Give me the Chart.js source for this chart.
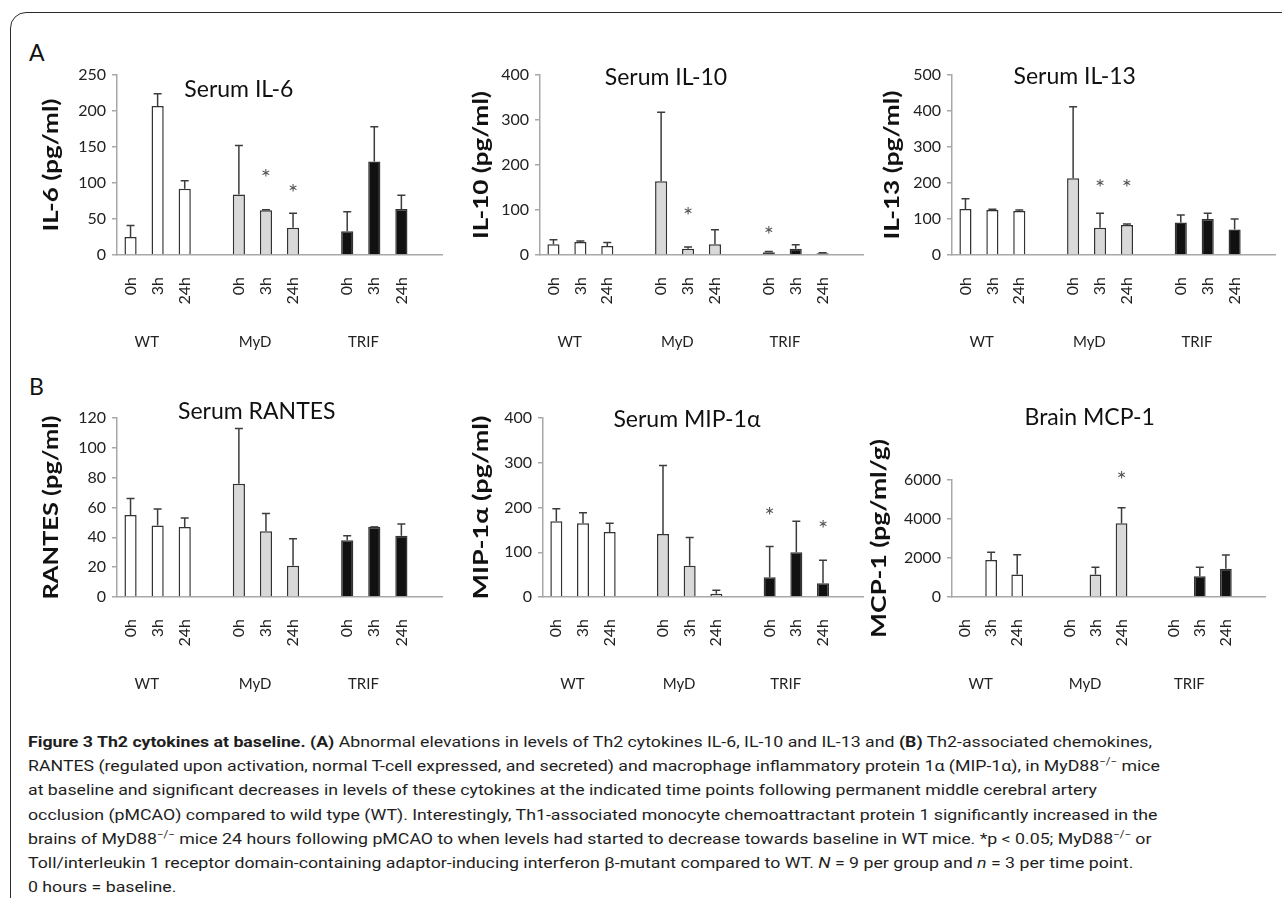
<!DOCTYPE html>
<html>
<head>
<meta charset="utf-8">
<title>Figure 3 Th2 cytokines at baseline</title>
<script src="https://cdn.jsdelivr.net/npm/chart.js@4.4.1/dist/chart.umd.min.js"></script>
<style>
  body { margin: 0; background: #fff; width: 1282px; height: 898px; overflow: hidden; position: relative; }
  .frame { position: absolute; left: 10px; top: 12px; width: 1320px; height: 940px;
           border: 1.5px solid #2b2b2b; border-radius: 16px; }
  .letter { position: absolute; font-family: Lato, sans-serif; font-size: 23px; color: #111; }
  canvas { position: absolute; }
  .caption { position: absolute; left: 28px; top: 730px; font-family: Roboto, sans-serif; font-size: 15.5px;
             line-height: 24.2px; color: #1e1e1e; white-space: nowrap; transform-origin: 0 0; }
  .caption sup { font-size: 10px; line-height: 0; vertical-align: 6px; }
</style>
</head>
<body>
<div class="frame"></div>
<div class="letter" style="left:29px;top:38px">A</div>
<div class="letter" style="left:29px;top:372px">B</div>

<div class="caption" id="caption">
<div id="capLine1"><b>Figure 3 Th2 cytokines at baseline.</b> <b>(A)</b> Abnormal elevations in levels of Th2 cytokines IL-6, IL-10 and IL-13 and <b>(B)</b> Th2-associated chemokines,</div>
<div>RANTES (regulated upon activation, normal T-cell expressed, and secreted) and macrophage inflammatory protein 1α (MIP-1α), in MyD88<sup>−/−</sup> mice</div>
<div>at baseline and significant decreases in levels of these cytokines at the indicated time points following permanent middle cerebral artery</div>
<div>occlusion (pMCAO) compared to wild type (WT). Interestingly, Th1-associated monocyte chemoattractant protein 1 significantly increased in the</div>
<div>brains of MyD88<sup>−/−</sup> mice 24 hours following pMCAO to when levels had started to decrease towards baseline in WT mice. *p &lt; 0.05; MyD88<sup>−/−</sup> or</div>
<div>Toll/interleukin 1 receptor domain-containing adaptor-inducing interferon β-mutant compared to WT. <i>N</i> = 9 per group and <i>n</i> = 3 per time point.</div>
<div>0 hours = baseline.</div>
</div>

<script>
Chart.defaults.font.family = 'Lato, "DejaVu Sans", sans-serif';
Chart.defaults.color = '#222';
Chart.defaults.animation = false;

var groups = ['WT', 'MyD', 'TRIF'];
var times = ['0h', '3h', '24h'];
var groupFill = ['#ffffff', '#d9d9d9', '#111111'];

// A: serum IL-6, IL-10, IL-13 (mean, SD, asterisk height)
var il6Mean = [25, 207, 92, 84, 62, 38, 33, 130, 64];
var il6Sd = [16, 17, 11, 68, 1, 20, 27, 48, 19];
var il6Star = [null, null, null, null, 113, 93, null, null, null];

var il10Mean = [24, 29, 20, 164, 14, 24, 6, 14, 4];
var il10Sd = [10, 2, 8, 153, 4, 32, 2, 9, 1];
var il10Star = [null, null, null, null, 97, null, 56, null, null];

var il13Mean = [128, 125, 122, 213, 76, 83, 90, 100, 71];
var il13Sd = [28, 2, 3, 199, 40, 3, 21, 16, 29];
var il13Star = [null, null, null, null, 199, 199, null, null, null];

// B: serum RANTES, MIP-1a, brain MCP-1
var rantesMean = [55, 48, 47, 76, 44, 21, 38, 47, 41];
var rantesSd = [11, 11, 6, 37, 12, 18, 3, 0, 8];
var rantesStar = [null, null, null, null, null, null, null, null, null];

var mipMean = [169, 165, 145, 141, 70, 7, 44, 100, 31];
var mipSd = [28, 23, 20, 153, 63, 8, 69, 69, 51];
var mipStar = [null, null, null, null, null, null, 191, null, 162];

var mcpMean = [null, 1900, 1150, null, 1150, 3780, null, 1060, 1450];
var mcpSd = [null, 400, 1020, null, 380, 800, null, 470, 710];
var mcpStar = [null, null, null, null, null, 6250, null, null, null];

// page layout of each plot area (ax/ar = left/right, at/ab = top/bottom)
var panels = [
  { title: 'Serum IL-6', yTitle: 'IL-6 (pg/ml)', mean: il6Mean, sd: il6Sd, star: il6Star, max: 250, step: 50,
    ax: 117, ar: 442, at: 75, ab: 255, tx: 0.375, ty: 15, ydx: 65, ylen: 133 },
  { title: 'Serum IL-10', yTitle: 'IL-10 (pg/ml)', mean: il10Mean, sd: il10Sd, star: il10Star, max: 400, step: 100,
    ax: 540, ar: 863, at: 75, ab: 255, tx: 0.39, ty: 3, ydx: 58, ylen: 148 },
  { title: 'Serum IL-13', yTitle: 'IL-13 (pg/ml)', mean: il13Mean, sd: il13Sd, star: il13Star, max: 500, step: 100,
    ax: 952, ar: 1275, at: 75, ab: 255, tx: 0.38, ty: 2, ydx: 59, ylen: 149 },
  { title: 'Serum RANTES', yTitle: 'RANTES (pg/ml)', mean: rantesMean, sd: rantesSd, star: rantesStar, max: 120, step: 20,
    ax: 117, ar: 442, at: 418, ab: 597, tx: 0.43, ty: -6, ydx: 65, ylen: 184 },
  { title: 'Serum MIP-1α', yTitle: 'MIP-1α (pg/ml)', mean: mipMean, sd: mipSd, star: mipStar, max: 400, step: 100,
    ax: 543, ar: 863, at: 418, ab: 597, tx: 0.45, ty: 2, ydx: 61, ylen: 184 },
  { title: 'Brain MCP-1', yTitle: 'MCP-1 (pg/ml/g)', mean: mcpMean, sd: mcpSd, star: mcpStar, max: 6000, step: 2000,
    ax: 952, ar: 1265, at: 480, ab: 597, tx: 0.44, ty: -62, ydx: 72, ylen: 199 }
];

// 3 bars per group followed by an empty slot, as in the original spreadsheet chart
function toSlots(arr) {
  var out = [];
  for (var g = 0; g < groups.length; g++) {
    for (var t = 0; t < times.length; t++) out.push(arr[g * times.length + t]);
    out.push(null);
  }
  return out;
}

var labels = [];
groups.forEach(function () { labels = labels.concat(times, ['']); });

var fills = [];
groups.forEach(function (g, i) { times.forEach(function () { fills.push(groupFill[i]); }); });

var figExtras = {
  id: 'figExtras',
  afterDatasetsDraw: function (chart, args, opts) {
    var ctx = chart.ctx, xs = chart.scales.x, ys = chart.scales.y, area = chart.chartArea;
    var meta = chart.getDatasetMeta(0);
    var data = chart.data.datasets[0].data;
    ctx.save();
    // upward error bars
    ctx.strokeStyle = '#3c3c3c';
    ctx.lineWidth = 1.5;
    opts.sd.forEach(function (e, i) {
      if (e == null || data[i] == null) return;
      var bar = meta.data[i];
      var yTop = ys.getPixelForValue(data[i] + e);
      ctx.beginPath();
      ctx.moveTo(bar.x, bar.y);
      ctx.lineTo(bar.x, yTop);
      ctx.moveTo(bar.x - 4, yTop);
      ctx.lineTo(bar.x + 4, yTop);
      ctx.stroke();
    });
    // significance asterisks
    ctx.fillStyle = '#555';
    ctx.font = '24px Lato';
    ctx.textAlign = 'center';
    ctx.textBaseline = 'middle';
    opts.star.forEach(function (s, i) {
      if (s == null) return;
      ctx.fillText('*', xs.getPixelForValue(i), ys.getPixelForValue(s) + 5);
    });
    // group names under the time labels
    ctx.fillStyle = '#222';
    ctx.font = '15px Lato';
    groups.forEach(function (g, i) {
      ctx.fillText(g, xs.getPixelForValue(i * 4 + 0.6), area.bottom + 87);
    });
    // chart title inside the plot
    ctx.fillStyle = '#111';
    ctx.font = '23px Lato';
    ctx.fillText(opts.title, area.left + opts.tx * (area.right - area.left), area.top + opts.ty);
    // y axis title, stretched to the original length
    ctx.font = 'bold 20px Lato';
    var w = ctx.measureText(opts.yTitle).width;
    ctx.translate(area.left - opts.ydx, (area.top + area.bottom) / 2);
    ctx.rotate(-Math.PI / 2);
    ctx.scale(opts.ylen / w, 1);
    ctx.fillText(opts.yTitle, 0, 0);
    ctx.restore();
  }
};

var PAD_TOP = 75, PAD_RIGHT = 10, X_H = 60, PAD_BOTTOM = 40, LEFT_M = 20;

panels.forEach(function (p, n) {
  var yW = p.ydx + LEFT_M;
  var canvas = document.createElement('canvas');
  canvas.width = yW + (p.ar - p.ax) + PAD_RIGHT;
  canvas.height = PAD_TOP + (p.ab - p.at) + X_H + PAD_BOTTOM;
  canvas.style.left = (p.ax - yW) + 'px';
  canvas.style.top = (p.at - PAD_TOP) + 'px';
  document.body.appendChild(canvas);

  new Chart(canvas.getContext('2d'), {
    type: 'bar',
    data: {
      labels: labels,
      datasets: [{
        data: toSlots(p.mean),
        backgroundColor: toSlots(fills),
        borderColor: '#333',
        borderWidth: 1.5,
        barPercentage: 0.45,
        categoryPercentage: 1
      }]
    },
    options: {
      responsive: false,
      layout: { padding: { top: PAD_TOP, right: PAD_RIGHT, bottom: PAD_BOTTOM, left: 0 } },
      plugins: {
        legend: { display: false },
        tooltip: { enabled: false },
        figExtras: { sd: toSlots(p.sd), star: toSlots(p.star), title: p.title,
                     tx: p.tx, ty: p.ty, yTitle: p.yTitle, ydx: p.ydx, ylen: p.ylen }
      },
      scales: {
        x: {
          ticks: { autoSkip: false, maxRotation: 90, minRotation: 90, padding: 22,
                   font: { size: 16 }, color: '#222' },
          grid: { display: false, drawTicks: false },
          border: { color: '#a8a8a8', width: 1.5 },
          afterFit: function (s) { s.height = X_H; s.paddingLeft = 0; s.paddingRight = 0; }
        },
        y: {
          min: 0, max: p.max,
          ticks: { stepSize: p.step, padding: 6, font: { size: 16 }, color: '#222',
                   callback: function (v) { return String(v); } },
          grid: { drawOnChartArea: false, drawTicks: true, tickLength: 5, color: '#a8a8a8', lineWidth: 1.5 },
          border: { color: '#a8a8a8', width: 1.5 },
          afterFit: function (s) { s.width = yW; s.paddingTop = 0; s.paddingBottom = 0; }
        }
      }
    },
    plugins: [figExtras]
  });
});

// stretch the caption so its first line spans the same width as in the original
var cap = document.getElementById('caption');
var line1 = document.getElementById('capLine1');
var span = document.createElement('span');
span.innerHTML = line1.innerHTML;
line1.innerHTML = '';
line1.appendChild(span);
var natural = span.getBoundingClientRect().width;
cap.style.transform = 'scaleX(' + (1124 / natural) + ')';
</script>
</body>
</html>
